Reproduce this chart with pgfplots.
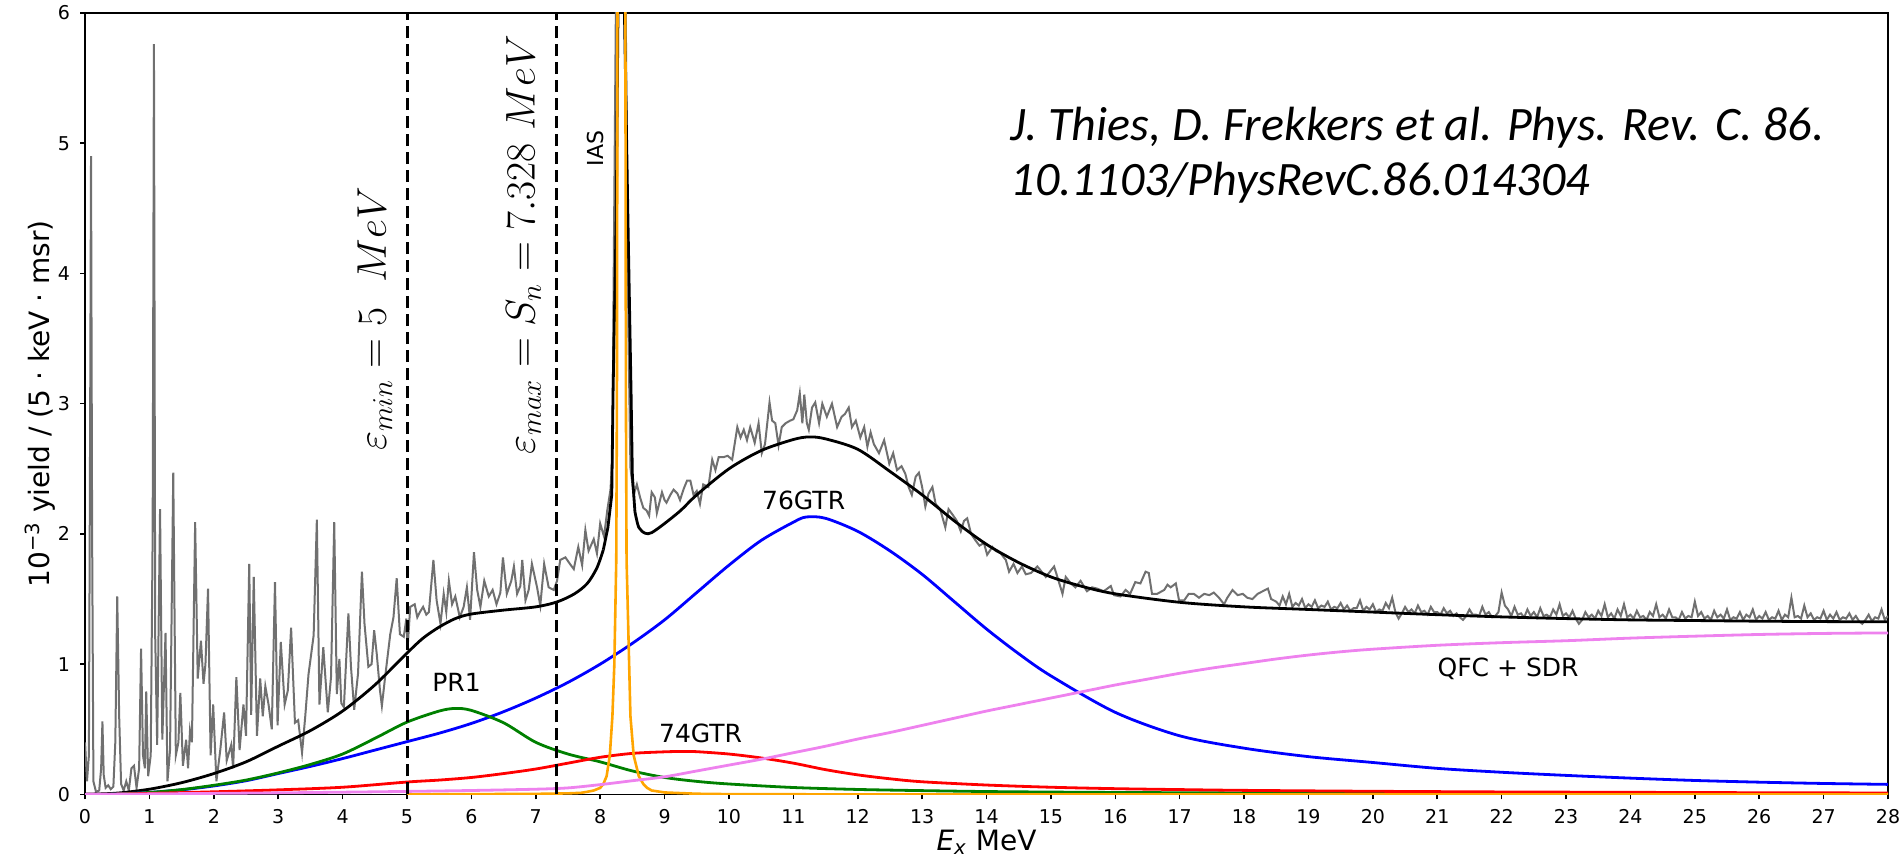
\documentclass[border=0pt]{standalone}
\usepackage{fontspec}
\setmainfont{DejaVu Sans}
\newfontfamily\calibri{Carlito}
\usepackage{pgfplots}
\pgfplotsset{compat=1.18}
\definecolor{datagray}{RGB}{112,112,112}
\definecolor{iasorange}{RGB}{255,165,0}
\definecolor{qfcviolet}{RGB}{238,130,238}
\definecolor{prgreen}{RGB}{0,128,0}

\begin{document}
\begin{tikzpicture}
\begin{axis}[
  scale only axis,
  width=901pt, height=390.5pt,
  xmin=0, xmax=28, ymin=0, ymax=6,
  xtick={0,1,...,28}, ytick={0,1,...,6},
  tick pos=left,
  tick align=outside,
  major tick length=2.5pt,
  major tick style={black, line width=0.8pt},
  axis line style={line width=0.8pt},
  /pgf/number format/assume math mode=true,
  tick label style={font=\fontsize{9.5}{11}\selectfont},
  xticklabel style={yshift=-1.5pt},
  yticklabel style={xshift=-1.5pt},
  label style={font=\fontsize{14}{16}\selectfont},
  xlabel={\textit{E}\textsubscript{\textit{x}} MeV},
  ylabel={10\textsuperscript{−3} yield / (5 · keV · msr)},
  xlabel style={at={(axis description cs:0.5,-0.0615)}, anchor=center},
  ylabel style={at={(axis description cs:-0.025,0.5)}, anchor=center},
]
\coordinate (SW) at (rel axis cs:0,0);
\coordinate (NE) at (rel axis cs:1,1);

% measured spectrum
\addplot[datagray, line width=1pt] coordinates {
(0.00,0.40) (0.03,0.10) (0.06,0.30) (0.08,3.00) (0.093,4.90) (0.11,2.00) (0.13,0.10)
(0.17,0.02) (0.22,0.03) (0.25,0.20) (0.27,0.56) (0.29,0.15) (0.32,0.05) (0.36,0.07)
(0.40,0.04) (0.44,0.06) (0.47,0.40) (0.50,1.52) (0.53,0.60) (0.56,0.08) (0.60,0.03)
(0.64,0.10) (0.68,0.03) (0.72,0.20) (0.76,0.22) (0.80,0.05) (0.84,0.20) (0.87,1.12)
(0.90,0.30) (0.93,0.20) (0.95,0.79) (0.98,0.14) (1.02,0.30) (1.05,2.00) (1.07,5.76)
(1.09,1.20) (1.12,0.38) (1.165,2.19) (1.20,0.42) (1.25,1.24) (1.28,0.10) (1.32,0.34)
(1.37,2.47) (1.41,0.30) (1.45,0.40) (1.48,0.78) (1.52,0.22) (1.57,0.42) (1.60,0.20)
(1.63,0.49) (1.66,0.40) (1.71,2.09) (1.75,0.89) (1.80,1.18) (1.84,0.85) (1.87,1.00)
(1.91,1.58) (1.95,0.30) (1.99,0.69) (2.04,0.10) (2.10,0.34) (2.16,0.63) (2.20,0.26)
(2.27,0.38) (2.30,0.20) (2.35,0.90) (2.40,0.34) (2.46,0.69) (2.50,0.45) (2.55,1.77)
(2.58,0.61) (2.62,1.67) (2.67,0.45) (2.72,0.89) (2.76,0.60) (2.80,0.83) (2.85,0.69)
(2.90,0.50) (2.95,1.63) (2.99,0.53) (3.04,1.17) (3.10,0.69) (3.15,0.80) (3.20,1.28)
(3.26,0.55) (3.31,0.57) (3.37,0.32) (3.42,0.60) (3.47,0.92) (3.55,1.22) (3.60,2.11)
(3.64,0.69) (3.70,1.13) (3.77,0.63) (3.82,0.90) (3.87,2.09) (3.91,0.77) (3.95,1.04)
(3.98,0.70) (4.02,0.67) (4.09,1.39) (4.13,0.98) (4.18,0.65) (4.24,0.93) (4.30,1.71)
(4.34,1.31) (4.40,0.98) (4.45,1.00) (4.49,1.26) (4.53,1.08) (4.58,0.80) (4.61,0.68)
(4.66,0.90) (4.74,1.23) (4.79,1.36) (4.84,1.66) (4.89,1.23) (4.95,1.21) (4.99,1.35)
(5.01,1.13) (5.05,1.44) (5.12,1.46) (5.16,1.36) (5.20,1.40) (5.25,1.44) (5.30,1.38)
(5.34,1.40) (5.41,1.80) (5.46,1.49) (5.52,1.31) (5.57,1.54) (5.61,1.40) (5.65,1.64)
(5.70,1.46) (5.75,1.52) (5.82,1.36) (5.88,1.44) (5.93,1.59) (5.98,1.34) (6.04,1.86)
(6.09,1.57) (6.14,1.44) (6.20,1.64) (6.27,1.52) (6.33,1.57) (6.39,1.46) (6.45,1.55)
(6.49,1.82) (6.55,1.54) (6.62,1.64) (6.66,1.75) (6.71,1.54) (6.76,1.60) (6.79,1.80)
(6.84,1.49) (6.89,1.57) (6.94,1.77) (7.02,1.59) (7.07,1.45) (7.13,1.77) (7.20,1.59)
(7.28,1.57) (7.33,1.64) (7.38,1.80) (7.46,1.82) (7.53,1.77) (7.59,1.73) (7.66,1.90)
(7.72,1.76) (7.77,2.03) (7.82,1.87) (7.90,1.96) (7.95,1.85) (8.00,2.08) (8.06,1.98)
(8.11,2.18) (8.16,2.34) (8.19,2.60) (8.21,4.00) (8.26,7.00) (8.38,7.00) (8.44,3.50)
(8.47,2.51) (8.52,2.30) (8.57,2.38) (8.62,2.28) (8.67,2.20) (8.72,2.18) (8.76,2.14)
(8.80,2.32) (8.85,2.28) (8.88,2.16) (8.96,2.32) (9.00,2.26) (9.03,2.24) (9.09,2.30)
(9.14,2.34) (9.20,2.31) (9.24,2.26) (9.30,2.35) (9.35,2.41) (9.40,2.41) (9.45,2.30)
(9.50,2.33) (9.55,2.23) (9.60,2.38) (9.68,2.36) (9.74,2.57) (9.79,2.49) (9.84,2.59)
(9.92,2.59) (9.98,2.60) (10.05,2.57) (10.13,2.82) (10.18,2.74) (10.23,2.80) (10.28,2.72)
(10.33,2.82) (10.40,2.70) (10.46,2.85) (10.51,2.62) (10.56,2.69) (10.63,3.01) (10.67,2.87)
(10.72,2.85) (10.77,2.68) (10.82,2.82) (10.88,2.85) (10.95,2.87) (11.00,2.88) (11.06,2.95)
(11.10,3.08) (11.14,2.85) (11.17,3.07) (11.21,2.85) (11.24,2.80) (11.29,2.97) (11.34,3.01)
(11.40,2.85) (11.45,3.00) (11.52,2.90) (11.60,3.00) (11.68,2.82) (11.75,2.90) (11.80,2.92)
(11.86,2.97) (11.91,2.82) (11.97,2.87) (12.04,2.74) (12.10,2.82) (12.15,2.67) (12.20,2.78)
(12.25,2.69) (12.33,2.62) (12.41,2.72) (12.49,2.54) (12.55,2.62) (12.61,2.49) (12.68,2.52)
(12.74,2.46) (12.79,2.36) (12.84,2.30) (12.90,2.44) (12.95,2.47) (13.00,2.36) (13.05,2.21)
(13.10,2.31) (13.16,2.36) (13.21,2.23) (13.28,2.19) (13.36,2.05) (13.41,2.19) (13.47,2.15)
(13.54,2.10) (13.60,2.02) (13.65,2.10) (13.70,2.12) (13.76,2.00) (13.83,1.95) (13.89,1.91)
(13.96,1.93) (14.01,1.84) (14.09,1.90) (14.14,1.87) (14.22,1.85) (14.30,1.80) (14.35,1.71)
(14.42,1.77) (14.48,1.70) (14.55,1.75) (14.61,1.69) (14.69,1.70) (14.79,1.75) (14.84,1.72)
(14.92,1.67) (15.05,1.75) (15.10,1.67) (15.18,1.54) (15.23,1.67) (15.31,1.62) (15.38,1.59)
(15.46,1.64) (15.56,1.56) (15.64,1.59) (15.72,1.58) (15.82,1.56) (15.93,1.60) (15.98,1.53)
(16.08,1.52) (16.16,1.57) (16.23,1.54) (16.31,1.63) (16.39,1.62) (16.47,1.71) (16.52,1.70)
(16.57,1.54) (16.65,1.54) (16.76,1.57) (16.81,1.61) (16.86,1.59) (16.94,1.62) (16.99,1.49)
(17.07,1.49) (17.14,1.54) (17.22,1.54) (17.30,1.51) (17.38,1.54) (17.46,1.53) (17.53,1.55)
(17.61,1.51) (17.69,1.46) (17.74,1.51) (17.82,1.57) (17.90,1.53) (17.98,1.54) (18.05,1.51)
(18.13,1.50) (18.21,1.54) (18.29,1.56) (18.37,1.58) (18.42,1.50)
(18.50,1.48) (18.55,1.45) (18.60,1.52) (18.65,1.46) (18.70,1.54) (18.75,1.44) (18.80,1.47)
(18.85,1.45) (18.90,1.50) (18.95,1.43) (19.00,1.46) (19.05,1.44) (19.10,1.49) (19.15,1.43)
(19.20,1.45) (19.25,1.44) (19.30,1.48) (19.35,1.42) (19.40,1.44) (19.45,1.43) (19.50,1.47)
(19.55,1.42) (19.60,1.45) (19.65,1.41) (19.70,1.43) (19.75,1.43) (19.80,1.49) (19.85,1.41)
(19.90,1.44) (19.95,1.42) (20.00,1.46) (20.05,1.40) (20.10,1.42) (20.15,1.41) (20.20,1.47)
(20.25,1.43) (20.30,1.51) (20.35,1.40) (20.40,1.35) (20.45,1.39) (20.50,1.44) (20.55,1.40)
(20.60,1.42) (20.65,1.39) (20.70,1.45) (20.75,1.40) (20.80,1.41) (20.85,1.38) (20.90,1.44)
(20.95,1.40) (21.00,1.40) (21.05,1.38) (21.10,1.43) (21.15,1.39) (21.20,1.41) (21.25,1.37)
(21.30,1.39) (21.35,1.36) (21.40,1.34) (21.45,1.37) (21.50,1.42) (21.55,1.38) (21.60,1.38)
(21.65,1.37) (21.70,1.44) (21.75,1.38) (21.80,1.40) (21.85,1.36) (21.90,1.37) (21.95,1.40)
(22.00,1.55) (22.05,1.45) (22.10,1.42) (22.15,1.37) (22.20,1.44) (22.25,1.38) (22.30,1.39)
(22.35,1.36) (22.40,1.42) (22.45,1.37) (22.50,1.40) (22.55,1.36) (22.60,1.43) (22.65,1.37)
(22.70,1.38) (22.75,1.36) (22.80,1.42) (22.85,1.38) (22.90,1.46) (22.95,1.37) (23.00,1.39)
(23.05,1.36) (23.10,1.41) (23.15,1.35) (23.20,1.31) (23.25,1.34) (23.30,1.40) (23.35,1.36)
(23.40,1.38) (23.45,1.35) (23.50,1.41) (23.55,1.37) (23.60,1.46) (23.65,1.36) (23.70,1.39)
(23.75,1.35) (23.80,1.42) (23.85,1.37) (23.90,1.46) (23.95,1.36) (24.00,1.38) (24.05,1.35)
(24.10,1.41) (24.15,1.36) (24.20,1.37) (24.25,1.34) (24.30,1.40) (24.35,1.37) (24.40,1.46)
(24.45,1.36) (24.50,1.38) (24.55,1.35) (24.60,1.42) (24.65,1.36) (24.70,1.36) (24.75,1.34)
(24.80,1.40) (24.85,1.35) (24.90,1.37) (24.95,1.36) (25.00,1.48) (25.05,1.37) (25.10,1.40)
(25.15,1.35) (25.20,1.37) (25.25,1.34) (25.30,1.41) (25.35,1.36) (25.40,1.38) (25.45,1.35)
(25.50,1.42) (25.55,1.34) (25.60,1.36) (25.65,1.35) (25.70,1.40) (25.75,1.34) (25.80,1.38)
(25.85,1.36) (25.90,1.42) (25.95,1.34) (26.00,1.37) (26.05,1.35) (26.10,1.40) (26.15,1.34)
(26.20,1.36) (26.25,1.35) (26.30,1.41) (26.35,1.34) (26.40,1.38) (26.45,1.36) (26.50,1.51)
(26.55,1.36) (26.60,1.37) (26.65,1.35) (26.70,1.45) (26.75,1.36) (26.80,1.39) (26.85,1.34)
(26.90,1.36) (26.95,1.35) (27.00,1.41) (27.05,1.34) (27.10,1.38) (27.15,1.35) (27.20,1.40)
(27.25,1.34) (27.30,1.36) (27.35,1.35) (27.40,1.39) (27.45,1.34) (27.50,1.37) (27.55,1.33)
(27.60,1.31) (27.65,1.34) (27.70,1.38) (27.75,1.33) (27.80,1.36) (27.85,1.35) (27.90,1.42)
(27.95,1.34) (28.00,1.37)
};

% total fit
\addplot[black, line width=1.4pt, smooth] coordinates {
(0,0) (0.5,0.01) (1,0.04) (1.5,0.09) (2,0.16) (2.5,0.25) (3,0.37) (3.5,0.49)
(4,0.64) (4.5,0.84) (5,1.085) (5.25,1.20) (5.5,1.285) (5.75,1.35) (6,1.385)
(6.5,1.415) (7,1.44) (7.33,1.478) (7.6,1.54) (7.8,1.62) (7.95,1.74) (8.05,1.88)
};
\addplot[black, line width=1.4pt] coordinates {
(8.05,1.88) (8.12,2.05) (8.18,2.30) (8.20,3.08) (8.25,4.45) (8.285,6.5) (8.32,9)
(8.36,6.5) (8.43,4.45) (8.48,3.08) (8.50,2.45) (8.54,2.17)
};
\addplot[black, line width=1.4pt, smooth] coordinates {
(8.54,2.17) (8.6,2.05) (8.7,2.005) (8.8,2.01) (9.0,2.08) (9.25,2.18) (9.5,2.30)
(10,2.50) (10.5,2.64) (11,2.725) (11.25,2.745) (11.5,2.73) (12,2.65) (12.5,2.48)
(13,2.30) (13.5,2.10) (14,1.92) (14.5,1.78) (15,1.67) (15.5,1.595) (16,1.54)
(17,1.475) (18,1.44) (19,1.42) (20,1.40) (21,1.38) (22,1.363) (23,1.35) (24,1.34)
(25,1.335) (26,1.33) (27,1.327) (28,1.325)
};

% 76GTR
\addplot[blue, line width=1.4pt, smooth] coordinates {
(0,0) (0.5,0.003) (1,0.015) (1.5,0.035) (2,0.065) (2.5,0.105) (3,0.16) (3.5,0.215)
(4,0.275) (4.5,0.34) (5,0.405) (5.5,0.47) (6,0.545) (6.5,0.635) (7,0.74) (7.5,0.86)
(8,1.00) (8.5,1.16) (9,1.34) (9.5,1.55) (10,1.76) (10.5,1.95) (11,2.09) (11.2,2.13)
(11.5,2.12) (12,2.02) (12.5,1.87) (13,1.69) (13.5,1.48) (14,1.27) (14.5,1.08)
(15,0.91) (16,0.63) (17,0.45) (18,0.355) (19,0.29) (20,0.245) (21,0.20) (22,0.17)
(23,0.146) (24,0.125) (25,0.107) (26,0.094) (27,0.084) (28,0.077)
};
% PR1
\addplot[prgreen, line width=1.4pt, smooth] coordinates {
(0,0) (0.5,0.003) (1,0.015) (1.5,0.037) (2,0.07) (2.5,0.11) (3,0.165) (3.5,0.23)
(4,0.31) (4.5,0.43) (5,0.555) (5.5,0.64) (5.75,0.66) (6,0.645) (6.5,0.55) (7,0.40)
(7.5,0.31) (8,0.25) (8.5,0.18) (9,0.13) (9.5,0.10) (10,0.08) (11,0.053) (12,0.038)
(13,0.029) (14,0.022) (15,0.018) (16,0.015) (18,0.011) (20,0.008) (24,0.005) (28,0.004)
};
% 74GTR
\addplot[red, line width=1.4pt, smooth] coordinates {
(0,0) (0.5,0.002) (1,0.008) (2,0.02) (3,0.035) (4,0.055) (5,0.095) (5.5,0.11)
(6,0.13) (6.5,0.16) (7,0.195) (7.5,0.24) (8,0.285) (8.5,0.315) (9,0.327) (9.3,0.33)
(9.5,0.328) (10,0.31) (10.5,0.28) (11,0.24) (11.5,0.19) (12,0.15) (12.5,0.12)
(13,0.097) (14,0.072) (15,0.055) (16,0.044) (17,0.037) (18,0.031) (20,0.024)
(22,0.019) (24,0.016) (26,0.013) (28,0.011)
};
% IAS
\addplot[iasorange, line width=1.3pt] coordinates {
(5,0) (6,0.002) (7,0.004) (7.5,0.008) (7.7,0.012) (7.8,0.02) (7.9,0.03) (8.0,0.05)
(8.05,0.08) (8.1,0.14) (8.15,0.30) (8.19,0.60) (8.22,1.00) (8.25,1.80) (8.26,3.00)
(8.27,6.5) (8.30,12) (8.33,14) (8.36,12) (8.39,6.5) (8.40,3.00) (8.41,1.80)
(8.45,1.00) (8.47,0.60) (8.52,0.30) (8.6,0.14) (8.67,0.08) (8.73,0.05) (8.8,0.03)
(9.0,0.015) (9.5,0.005) (10,0.002) (12,0) (28,0)
};
% QFC + SDR
\addplot[qfcviolet, line width=1.4pt, smooth] coordinates {
(0,0) (1,0.004) (2,0.008) (3,0.012) (4,0.017) (5,0.023) (6,0.03) (7,0.04) (7.5,0.05)
(8,0.075) (8.5,0.105) (9,0.135) (9.5,0.18) (10,0.225) (10.5,0.27) (11,0.32)
(11.5,0.37) (12,0.425) (12.5,0.475) (13,0.53) (13.5,0.585) (14,0.64) (14.5,0.69)
(15,0.74) (15.5,0.79) (16,0.84) (16.5,0.885) (17,0.93) (17.5,0.97) (18,1.005)
(18.5,1.04) (19,1.07) (19.5,1.095) (20,1.115) (21,1.145) (22,1.165) (23,1.18)
(24,1.20) (25,1.215) (26,1.228) (27,1.236) (28,1.24)
};

% integration limits
\addplot[black, line width=1.5pt, dash pattern=on 6pt off 3pt] coordinates {(5,0) (5,6)};
\addplot[black, line width=1.5pt, dash pattern=on 6pt off 3pt] coordinates {(7.328,0) (7.328,6)};

\node[font=\fontsize{12.5}{14}\selectfont] at (axis cs:5.77,0.86) {PR1};
\node[font=\fontsize{12.5}{14}\selectfont] at (axis cs:11.16,2.26) {76GTR};
\node[font=\fontsize{12.5}{14}\selectfont] at (axis cs:9.56,0.47) {74GTR};
\node[font=\fontsize{12.5}{14}\selectfont] at (axis cs:22.1,0.965) {QFC + SDR};
\node[rotate=90, font=\fontsize{11}{13}\selectfont] at (axis cs:7.92,4.96) {IAS};
\node[rotate=90, font=\fontsize{20}{24}\selectfont] at (axis cs:4.5,3.65) {$\varepsilon_{min} = 5\ \ MeV$};
\node[rotate=90, font=\fontsize{20}{24}\selectfont] at (axis cs:6.81,4.22) {$\varepsilon_{max} = S_n = 7.328\ MeV$};
\node[anchor=base west, inner sep=0, font=\calibri\itshape\fontsize{24}{28}\selectfont] at (axis cs:14.37,5.02) {J. Thies, D. Frekkers et al. Phys. Rev. C. 86.};
\node[anchor=base west, inner sep=0, font=\calibri\itshape\fontsize{24}{28}\selectfont] at (axis cs:14.37,4.60) {10.1103/PhysRevC.86.014304};
\end{axis}
\pgfresetboundingbox
\path ([shift={(-42.5pt,-32.5pt)}]SW) rectangle ([shift={(7.5pt,6.5pt)}]NE);
\end{tikzpicture}
\end{document}
